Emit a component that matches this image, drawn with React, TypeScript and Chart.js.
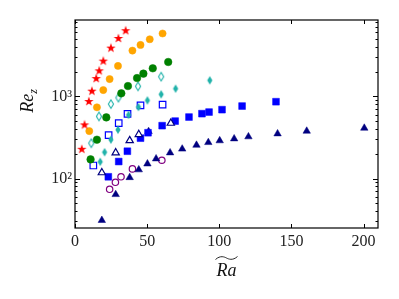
import React, { useEffect, useRef } from "react";
import { Chart, registerables } from "chart.js";

Chart.register(...registerables);

// ---- data ----
const starX = [35.1, 30.1, 24.9, 19.6, 16.8, 14.7, 11.7, 9.6, 6.6, 4.7];
const starY = [6385, 5140, 3925, 2725, 2075, 1670, 1174, 877, 456, 230];

const orangeX = [60.7, 51.8, 45.4, 39.8, 29.8, 24.0, 19.6, 15.2, 9.9];
const orangeY = [5825, 4955, 4225, 3605, 2345, 1625, 1194, 735, 378];

const greenX = [64.6, 53.9, 47.4, 43.0, 36.7, 32.1, 21.7, 15.2, 10.8];
const greenY = [2620, 2195, 1890, 1670, 1335, 1088, 555, 297, 171];

const openDiamondX = [59.7, 43.7, 30.1, 24.9, 16.6, 11.3];
const openDiamondY = [1738, 1324, 964, 805, 570, 269];

const fillDiamondX = [93.4, 69.7, 59.7, 50.2, 44.0, 37.1, 29.8, 24.9, 20.5, 17.5];
const fillDiamondY = [1567, 1241, 1058, 893, 741, 594, 393, 297, 209, 160];

const openSquareX = [60.7, 45.4, 36.4, 30.3, 23.3, 12.7];
const openSquareY = [792, 776, 612, 472, 337, 144];

const openTriX = [66.4, 44.2, 37.9, 28.2, 18.6];
const openTriY = [472, 344, 290, 206, 118];

const fillSquareX = [23.1, 30.3, 36.3, 45.4, 50.6, 60.4, 69.4, 79.0, 88.0, 92.9, 101.9, 115.8, 139.3];
const fillSquareY = [105, 161, 215, 310, 361, 440, 500, 560, 616, 644, 689, 762, 861];

const fillTriX = [18.6, 28.2, 37.9, 44.2, 50.2, 56.2, 65.9, 74.3, 84.2, 92.4, 100.3, 110.3, 120.2, 140.4, 160.6, 200.5, 51.0];
const fillTriY = [31, 64, 103, 128, 151, 174, 206, 229, 255, 275, 289, 305, 323, 351, 378, 411, 374];

const purpleX = [24.0, 28.0, 31.9, 39.8, 60.2];
const purpleY = [74, 90, 105, 131, 167];

const xTicks = [0, 50, 100, 150, 200];
const yMajor = [100, 1000];
const yLabels: Record<number, string> = { 100: "10²", 1000: "10³" };

const RED = "#ff0000";
const ORANGE = "#ffa500";
const GREEN = "#008000";
const TEAL = "#20b2aa";
const BLUE = "#0000ff";
const NAVY = "#000080";
const PURPLE = "#800080";

const pts = (xs: number[], ys: number[]) => xs.map((x, i) => ({ x, y: ys[i] }));

function makeImg(size: number, draw: (g: CanvasRenderingContext2D, c: number) => void) {
  const cv = document.createElement("canvas");
  cv.width = size;
  cv.height = size;
  const g = cv.getContext("2d")!;
  draw(g, size / 2);
  return cv;
}

function starImg() {
  return makeImg(12, (g, c) => {
    const R = 5, r = 2.0;
    g.beginPath();
    for (let i = 0; i < 10; i++) {
      const rad = i % 2 === 0 ? R : r;
      const a = -Math.PI / 2 + (i * Math.PI) / 5;
      const px = c + rad * Math.cos(a);
      const py = c + 0.5 + rad * Math.sin(a);
      if (i === 0) g.moveTo(px, py);
      else g.lineTo(px, py);
    }
    g.closePath();
    g.fillStyle = RED;
    g.fill();
  });
}

function diamondImg(filled: boolean) {
  return makeImg(12, (g, c) => {
    const h = 4.3, w = 2.6;
    g.beginPath();
    g.moveTo(c, c - h);
    g.lineTo(c + w, c);
    g.lineTo(c, c + h);
    g.lineTo(c - w, c);
    g.closePath();
    if (filled) {
      g.fillStyle = TEAL;
      g.fill();
    } else {
      g.fillStyle = "#fff";
      g.fill();
      g.strokeStyle = TEAL;
      g.lineWidth = 1.1;
      g.stroke();
    }
  });
}

const framePlugin = {
  id: "framePlugin",
  afterDraw(chart: any) {
    const ctx = chart.ctx as CanvasRenderingContext2D;
    const { left, right, top, bottom } = chart.chartArea;
    const xs = chart.scales.x;
    const ys = chart.scales.y;
    ctx.save();
    ctx.strokeStyle = "#000";
    ctx.lineWidth = 1.2;
    ctx.strokeRect(left, top, right - left, bottom - top);
    ctx.lineWidth = 1;
    ctx.beginPath();
    for (const v of xTicks) {
      const px = Math.round(xs.getPixelForValue(v)) + 0.5;
      ctx.moveTo(px, bottom);
      ctx.lineTo(px, bottom - 4);
      ctx.moveTo(px, top);
      ctx.lineTo(px, top + 4);
    }
    for (let d = 10; d <= 10000; d *= 10) {
      for (let m = 1; m <= 9; m++) {
        const v = d * m;
        if (v < ys.min || v > ys.max) continue;
        const py = Math.round(ys.getPixelForValue(v)) + 0.5;
        const len = m === 1 ? 5 : 2.5;
        ctx.moveTo(left, py);
        ctx.lineTo(left + len, py);
        ctx.moveTo(right, py);
        ctx.lineTo(right - len, py);
      }
    }
    ctx.stroke();

    // x title: Ra with wide tilde
    ctx.fillStyle = "#111";
    ctx.strokeStyle = "#111";
    ctx.font = "italic 18px 'Liberation Serif'";
    ctx.textAlign = "center";
    ctx.textBaseline = "alphabetic";
    const cx = (left + right) / 2;
    ctx.fillText("Ra", cx, 276);
    ctx.lineWidth = 0.9;
    ctx.beginPath();
    const tx0 = cx - 11, tx1 = cx + 11, ty = 258;
    ctx.moveTo(tx0, ty + 1.5);
    ctx.bezierCurveTo(tx0 + 5, ty - 3, tx0 + 9, ty - 1, cx, ty);
    ctx.bezierCurveTo(tx1 - 9, ty + 1, tx1 - 5, ty + 3, tx1, ty - 1.5);
    ctx.stroke();

    // y title: Re_z
    ctx.save();
    ctx.translate(33, 101);
    ctx.rotate(-Math.PI / 2);
    ctx.font = "italic 18px 'Liberation Serif'";
    const w1 = ctx.measureText("Re").width;
    ctx.font = "italic 12px 'Liberation Serif'";
    const w2 = ctx.measureText("z").width;
    const start = -(w1 + w2) / 2;
    ctx.textAlign = "left";
    ctx.font = "italic 18px 'Liberation Serif'";
    ctx.fillText("Re", start, 0);
    ctx.font = "italic 12px 'Liberation Serif'";
    ctx.fillText("z", start + w1, 4);
    ctx.restore();
    ctx.restore();
  },
};

export default function App() {
  const ref = useRef<HTMLCanvasElement>(null);
  useEffect(() => {
    document.body.style.margin = "0";
    const star = starImg();
    const dOpen = diamondImg(false);
    const dFill = diamondImg(true);
    const chart = new Chart(ref.current!, {
      type: "scatter",
      data: {
        datasets: [
          { data: pts(starX, starY), pointStyle: star as any, pointRadius: 5, backgroundColor: RED, borderColor: RED },
          { data: pts(orangeX, orangeY), pointStyle: "circle", pointRadius: 3.6, backgroundColor: ORANGE, borderColor: ORANGE, borderWidth: 0.5 },
          { data: pts(greenX, greenY), pointStyle: "circle", pointRadius: 3.8, backgroundColor: GREEN, borderColor: GREEN, borderWidth: 0.5 },
          { data: pts(openDiamondX, openDiamondY), pointStyle: dOpen as any, pointRadius: 5 },
          { data: pts(fillDiamondX, fillDiamondY), pointStyle: dFill as any, pointRadius: 5 },
          { data: pts(openSquareX, openSquareY), pointStyle: "rect", pointRadius: 4.6, backgroundColor: "#fff", borderColor: BLUE, borderWidth: 1.2 },
          { data: pts(openTriX, openTriY), pointStyle: "triangle", pointRadius: 4.2, backgroundColor: "#fff", borderColor: NAVY, borderWidth: 1.2 },
          { data: pts(fillSquareX, fillSquareY), pointStyle: "rect", pointRadius: 4.8, backgroundColor: BLUE, borderColor: BLUE, borderWidth: 0.5 },
          { data: pts(fillTriX, fillTriY), pointStyle: "triangle", pointRadius: 4.3, backgroundColor: NAVY, borderColor: NAVY, borderWidth: 0.5 },
          { data: pts(purpleX, purpleY), pointStyle: "circle", pointRadius: 3.2, backgroundColor: "#fff", borderColor: PURPLE, borderWidth: 1.2 },
        ] as any,
      },
      options: {
        animation: false,
        responsive: false,
        devicePixelRatio: 1,
        layout: { padding: { left: 0, top: 20, right: 21, bottom: 0 } },
        plugins: { legend: { display: false }, tooltip: { enabled: false } },
        scales: {
          x: {
            type: "linear",
            min: 0,
            max: 210,
            grid: { display: false, drawTicks: false },
            border: { display: false },
            ticks: {
              stepSize: 50,
              includeBounds: false,
              maxRotation: 0,
              padding: 4,
              color: "#222",
              font: { family: "'Liberation Serif'", size: 16 },
            },
            afterFit: (s: any) => {
              s.height = 71;
            },
          },
          y: {
            type: "logarithmic",
            min: 25,
            max: 8500,
            grid: { display: false, drawTicks: false },
            border: { display: false },
            ticks: {
              autoSkip: false,
              padding: 3,
              color: "#222",
              font: { family: "'Liberation Serif'", size: 16 },
              callback: (v: any) => yLabels[Number(v)] ?? "",
            },
            afterFit: (s: any) => {
              s.width = 75;
            },
          },
        },
      } as any,
      plugins: [framePlugin],
    });
    return () => chart.destroy();
  }, []);
  return <canvas ref={ref} width={399} height={299} style={{ display: "block", width: 399, height: 299 }} />;
}
